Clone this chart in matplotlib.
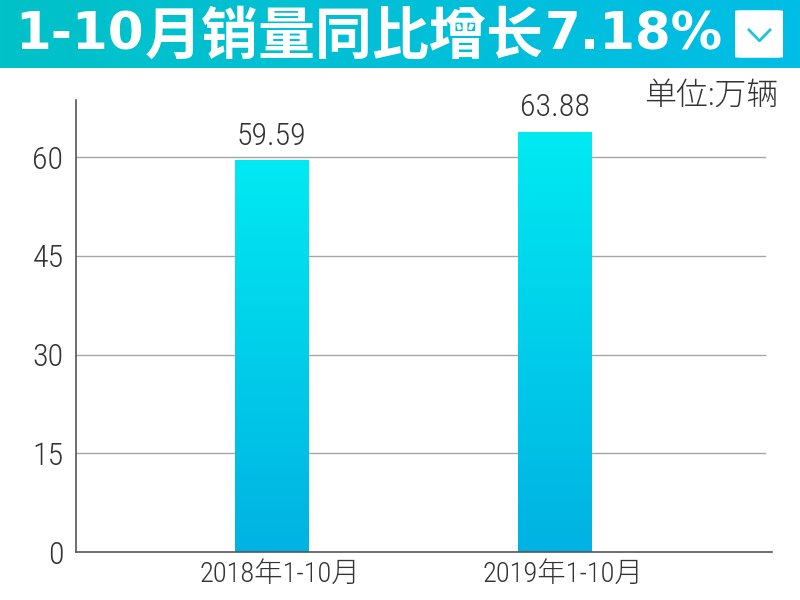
import numpy as np
import matplotlib
matplotlib.use("Agg")
import matplotlib.pyplot as plt
from matplotlib.patches import FancyBboxPatch
from matplotlib.colors import LinearSegmentedColormap
from matplotlib.transforms import ScaledTranslation

LIGHT = ['Roboto Condensed', 'Noto Sans CJK JP', 'DejaVu Sans']
plt.rcParams['font.family'] = ['Noto Sans CJK JP', 'DejaVu Sans']

categories = ["2018年1-10月", "2019年1-10月"]
values = [59.59, 63.88]
value_labels = ["59.59", "63.88"]
yticks = [0, 15, 30, 45, 60]
title_parts = ["1-10", "月销量同比增长", "7.18%"]
unit = "单位:万辆"

W, H = 800, 600
fig = plt.figure(figsize=(8, 6), dpi=100)
renderer = fig.canvas.get_renderer()

# Banner with horizontal gradient
bax = fig.add_axes([0, 1 - 68 / H, 1, 68 / H])
bax.set_axis_off()
bcmap = LinearSegmentedColormap.from_list("b", ["#00c2c8", "#00bde6"])
bax.imshow(np.linspace(0, 1, 256).reshape(1, -1), cmap=bcmap, aspect="auto",
           extent=[0, 1, 0, 1])
bax.set_xlim(0, 1); bax.set_ylim(0, 1)

# Title, laid out piece by piece (wide digits, CJK bold)
xcur = 15
for part in title_parts:
    is_cjk = any(ord(c) > 0x2E80 for c in part)
    if is_cjk:
        t = fig.text(xcur / W, 1 - 37 / H, part, color="white", fontsize=41,
                     fontweight=700, family=['Noto Sans CJK JP'],
                     ha="left", va="center")
    else:
        t = fig.text(xcur / W, 1 - 36 / H, part, color="white", fontsize=37,
                     fontweight="bold", family=['DejaVu Sans'],
                     ha="left", va="center")
    ext = t.get_window_extent(renderer)
    xcur = ext.x1 + 1

# chevron box
box = FancyBboxPatch((735 / W, 0.15), 48 / W, 0.70,
                     boxstyle="round,pad=0,rounding_size=0.01",
                     transform=bax.transAxes, facecolor="white", edgecolor="none")
bax.add_patch(box)
bax.plot([749 / W, 759.5 / W, 770 / W], [0.56, 0.40, 0.56], color="#20c4d8",
         lw=2, transform=bax.transAxes)

# Main axes
x0, x1 = 76, 772
y0, y1 = 552, 100
ax = fig.add_axes([x0 / W, 1 - y0 / H, (x1 - x0) / W, (y0 - y1) / H])
xpos = np.arange(len(categories))
bars = ax.bar(xpos, values, width=0.26, color="none", zorder=2)
gcmap = LinearSegmentedColormap.from_list("g", ["#00b2e2", "#00eaf2"])
grad = np.linspace(0, 1, 256).reshape(-1, 1)
for b in bars:
    bx, by, bw, bh = b.get_x(), b.get_y(), b.get_width(), b.get_height()
    im = ax.imshow(grad, cmap=gcmap, aspect="auto", origin="lower",
                   extent=[bx, bx + bw, by, by + bh], zorder=2)
    im.set_clip_path(b)
ax.set_xlim(-0.69, 1.765)
ax.set_ylim(0, 68.7)

for xv, v, lab in zip(xpos, values, value_labels):
    ax.annotate(lab, (xv, v), xytext=(0, 11), textcoords="offset points",
                ha="center", va="baseline", fontsize=23, fontweight=300,
                family=LIGHT, color="#333333")

ax.set_yticks(yticks)
ax.set_yticklabels([str(t) for t in yticks])
ax.set_xticks(xpos)
ax.set_xticklabels(categories)
ax.tick_params(axis="y", length=0, pad=9)
ax.tick_params(axis="x", length=0, pad=6)
for lab in ax.get_yticklabels():
    lab.set_fontsize(23)
shift = ScaledTranslation(8 / 100, 0, fig.dpi_scale_trans)
for lab in ax.get_xticklabels():
    lab.set_fontsize(20.5)
    lab.set_transform(lab.get_transform() + shift)
for lab in ax.get_yticklabels() + ax.get_xticklabels():
    lab.set_fontweight(300)
    lab.set_family(LIGHT)
    lab.set_color("#333333")
for yt in yticks[1:]:
    ax.plot([-0.69, 1.74], [yt, yt], color="#a6a6a6", lw=1, zorder=1)
for s in ["top", "right"]:
    ax.spines[s].set_visible(False)
for s in ["left", "bottom"]:
    ax.spines[s].set_color("#555555")
    ax.spines[s].set_linewidth(1.2)

fig.text(778 / W, 1 - 96 / H, unit, ha="right", va="center", fontsize=23,
         fontweight=300, family=LIGHT, color="#333333")

fig.savefig("out.png", dpi=100)
